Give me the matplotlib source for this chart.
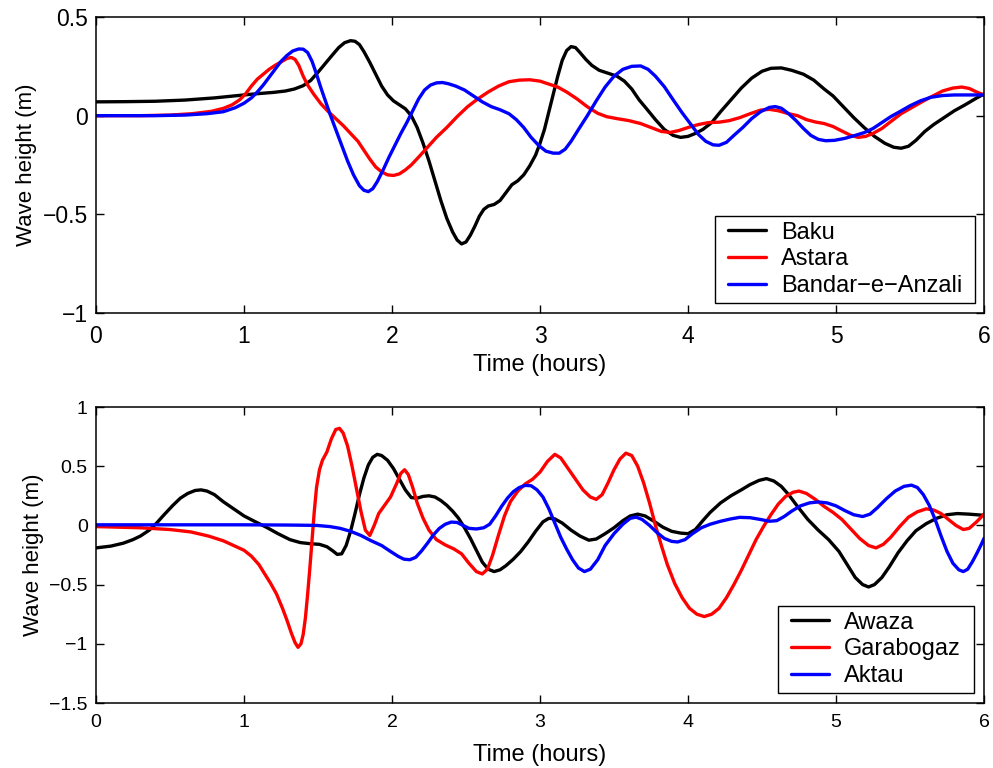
import matplotlib
matplotlib.use("Agg")
import matplotlib.pyplot as plt
from matplotlib.patches import Rectangle

plt.rcParams['font.family'] = ['Liberation Sans', 'DejaVu Sans']

# ---------------- Top panel data ----------------
baku_t = [0, 0.2, 0.4, 0.6, 0.8, 1.0, 1.1, 1.2, 1.28, 1.34, 1.40, 1.45, 1.50, 1.55, 1.60, 1.64, 1.68,
          1.72, 1.75, 1.78, 1.81, 1.85, 1.89, 1.93, 1.97, 2.01, 2.05, 2.09, 2.13, 2.17, 2.21, 2.25,
          2.29, 2.33, 2.37, 2.41, 2.44, 2.47, 2.50, 2.53, 2.56, 2.59, 2.62, 2.65, 2.69, 2.73, 2.77,
          2.81, 2.85, 2.89, 2.93, 2.97, 3.00, 3.03, 3.06, 3.09, 3.12, 3.15, 3.18, 3.21, 3.24, 3.27,
          3.31, 3.35, 3.40, 3.46, 3.52, 3.57, 3.62, 3.67, 3.72, 3.78, 3.84, 3.90, 3.95, 4.00, 4.05,
          4.10, 4.16, 4.22, 4.29, 4.36, 4.43, 4.50, 4.56, 4.63, 4.70, 4.78, 4.85, 4.92, 4.98, 5.05,
          5.12, 5.19, 5.26, 5.33, 5.39, 5.44, 5.49, 5.54, 5.60, 5.66, 5.73, 5.80, 5.87, 5.94, 6.0]
baku_v = [0.070, 0.071, 0.073, 0.079, 0.090, 0.105, 0.112, 0.118, 0.125, 0.135, 0.152, 0.178, 0.22,
          0.265, 0.31, 0.345, 0.37, 0.38, 0.377, 0.36, 0.325, 0.27, 0.21, 0.15, 0.105, 0.075, 0.055,
          0.035, 0.0, -0.06, -0.14, -0.23, -0.33, -0.43, -0.52, -0.59, -0.63, -0.65, -0.64, -0.605,
          -0.56, -0.51, -0.475, -0.458, -0.45, -0.43, -0.39, -0.35, -0.33, -0.30, -0.255, -0.20, -0.14,
          -0.07, 0.02, 0.11, 0.20, 0.28, 0.33, 0.35, 0.345, 0.32, 0.285, 0.255, 0.23, 0.215, 0.20,
          0.175, 0.135, 0.08, 0.035, -0.02, -0.07, -0.10, -0.11, -0.105, -0.09, -0.07, -0.035, 0.02,
          0.08, 0.14, 0.19, 0.225, 0.24, 0.242, 0.23, 0.21, 0.18, 0.135, 0.10, 0.045, -0.01, -0.06,
          -0.105, -0.14, -0.16, -0.165, -0.155, -0.125, -0.08, -0.045, -0.01, 0.025, 0.054, 0.085, 0.11]

astara_t = [0, 0.3, 0.5, 0.65, 0.78, 0.86, 0.92, 0.97, 1.01, 1.05, 1.09, 1.13, 1.17, 1.21, 1.25, 1.29,
            1.32, 1.345, 1.37, 1.40, 1.43, 1.47, 1.52, 1.57, 1.62, 1.67, 1.72, 1.77, 1.81, 1.85, 1.89,
            1.93, 1.97, 2.01, 2.05, 2.09, 2.13, 2.18, 2.24, 2.30, 2.37, 2.44, 2.51, 2.58, 2.65, 2.72,
            2.79, 2.86, 2.93, 3.00, 3.06, 3.12, 3.18, 3.25, 3.32, 3.39, 3.45, 3.52, 3.60, 3.68, 3.75,
            3.82, 3.88, 3.94, 4.00, 4.07, 4.14, 4.21, 4.28, 4.35, 4.42, 4.49, 4.55, 4.61, 4.68, 4.74,
            4.80, 4.86, 4.92, 4.98, 5.04, 5.10, 5.15, 5.20, 5.25, 5.31, 5.37, 5.44, 5.51, 5.58, 5.65,
            5.72, 5.79, 5.85, 5.90, 5.95, 6.0]
astara_v = [0.0, 0.0, 0.003, 0.01, 0.022, 0.037, 0.055, 0.08, 0.11, 0.15, 0.185, 0.21, 0.235, 0.255,
            0.272, 0.29, 0.295, 0.285, 0.255, 0.20, 0.155, 0.11, 0.06, 0.02, -0.015, -0.05, -0.09, -0.13,
            -0.175, -0.22, -0.26, -0.285, -0.30, -0.303, -0.295, -0.275, -0.25, -0.21, -0.16, -0.11,
            -0.06, -0.005, 0.045, 0.085, 0.12, 0.15, 0.172, 0.18, 0.182, 0.175, 0.16, 0.145, 0.12, 0.085,
            0.045, 0.012, -0.005, -0.015, -0.025, -0.04, -0.06, -0.08, -0.085, -0.075, -0.06, -0.045,
            -0.035, -0.033, -0.025, -0.01, 0.01, 0.028, 0.032, 0.025, 0.01, 0.0, -0.02, -0.032, -0.04,
            -0.055, -0.078, -0.10, -0.11, -0.105, -0.09, -0.065, -0.03, 0.01, 0.04, 0.07, 0.098, 0.125,
            0.14, 0.145, 0.138, 0.12, 0.105]

anzali_t = [0, 0.4, 0.6, 0.75, 0.86, 0.94, 1.0, 1.05, 1.09, 1.13, 1.17, 1.21, 1.25, 1.29, 1.33, 1.37,
            1.40, 1.43, 1.46, 1.49, 1.52, 1.55, 1.58, 1.62, 1.66, 1.70, 1.74, 1.78, 1.81, 1.84, 1.87,
            1.90, 1.94, 1.98, 2.02, 2.06, 2.10, 2.14, 2.18, 2.22, 2.26, 2.30, 2.34, 2.38, 2.43, 2.49,
            2.55, 2.61, 2.67, 2.73, 2.79, 2.84, 2.89, 2.94, 2.99, 3.04, 3.09, 3.13, 3.17, 3.21, 3.26,
            3.32, 3.38, 3.44, 3.50, 3.56, 3.62, 3.68, 3.73, 3.78, 3.84, 3.90, 3.96, 4.02, 4.07, 4.12,
            4.17, 4.21, 4.26, 4.31, 4.37, 4.43, 4.49, 4.55, 4.59, 4.63, 4.68, 4.73, 4.78, 4.83, 4.88,
            4.93, 4.99, 5.06, 5.13, 5.19, 5.25, 5.31, 5.37, 5.43, 5.50, 5.57, 5.64, 5.72, 5.80, 5.90, 6.0]
anzali_v = [0.0, 0.0, 0.003, 0.01, 0.02, 0.04, 0.063, 0.09, 0.12, 0.155, 0.195, 0.235, 0.275, 0.305,
            0.328, 0.338, 0.337, 0.32, 0.275, 0.21, 0.14, 0.075, 0.01, -0.07, -0.15, -0.23, -0.30,
            -0.355, -0.378, -0.385, -0.37, -0.335, -0.275, -0.21, -0.15, -0.09, -0.035, 0.025, 0.085,
            0.13, 0.155, 0.166, 0.168, 0.162, 0.15, 0.13, 0.10, 0.07, 0.046, 0.03, 0.01, -0.02, -0.06,
            -0.11, -0.15, -0.18, -0.19, -0.19, -0.17, -0.13, -0.07, 0.0, 0.075, 0.145, 0.20, 0.235,
            0.25, 0.252, 0.235, 0.20, 0.147, 0.08, 0.015, -0.045, -0.095, -0.13, -0.148, -0.15, -0.135,
            -0.10, -0.06, -0.015, 0.02, 0.042, 0.046, 0.038, 0.01, -0.025, -0.065, -0.10, -0.12, -0.127,
            -0.125, -0.115, -0.10, -0.086, -0.065, -0.035, -0.005, 0.02, 0.05, 0.075, 0.093, 0.102,
            0.105, 0.105, 0.105]

# ---------------- Bottom panel data ----------------
awaza_t = [0, 0.1, 0.185, 0.25, 0.30, 0.36, 0.41, 0.46, 0.52, 0.57, 0.62, 0.67, 0.71, 0.75, 0.80, 0.86,
           0.93, 1.0, 1.07, 1.15, 1.23, 1.31, 1.38, 1.45, 1.51, 1.56, 1.60, 1.63, 1.66, 1.69, 1.72,
           1.75, 1.78, 1.81, 1.84, 1.87, 1.90, 1.93, 1.97, 2.01, 2.05, 2.09, 2.13, 2.17, 2.21, 2.25,
           2.29, 2.33, 2.37, 2.41, 2.45, 2.49, 2.53, 2.57, 2.61, 2.65, 2.69, 2.73, 2.77, 2.82, 2.87,
           2.92, 2.97, 3.02, 3.06, 3.10, 3.15, 3.21, 3.27, 3.33, 3.38, 3.44, 3.50, 3.56, 3.61, 3.66,
           3.71, 3.77, 3.83, 3.89, 3.95, 4.0, 4.05, 4.10, 4.15, 4.22, 4.29, 4.36, 4.42, 4.48, 4.53,
           4.58, 4.63, 4.68, 4.74, 4.81, 4.88, 4.95, 5.02, 5.08, 5.13, 5.18, 5.22, 5.26, 5.31, 5.36,
           5.42, 5.48, 5.54, 5.61, 5.68, 5.75, 5.82, 5.90, 6.0]
awaza_v = [-0.19, -0.175, -0.15, -0.12, -0.09, -0.04, 0.02, 0.09, 0.17, 0.23, 0.27, 0.295, 0.30, 0.29,
           0.26, 0.20, 0.14, 0.08, 0.035, -0.015, -0.07, -0.12, -0.145, -0.155, -0.16, -0.18, -0.215,
           -0.245, -0.24, -0.17, -0.05, 0.10, 0.26, 0.40, 0.51, 0.575, 0.60, 0.59, 0.55, 0.48, 0.39,
           0.30, 0.235, 0.23, 0.245, 0.25, 0.24, 0.21, 0.17, 0.12, 0.06, -0.02, -0.11, -0.21, -0.31,
           -0.37, -0.39, -0.375, -0.34, -0.285, -0.22, -0.14, -0.05, 0.03, 0.06, 0.055, 0.02, -0.04,
           -0.09, -0.125, -0.115, -0.07, -0.02, 0.04, 0.08, 0.095, 0.08, 0.035, -0.015, -0.05, -0.065,
           -0.07, -0.035, 0.04, 0.11, 0.19, 0.25, 0.30, 0.345, 0.38, 0.395, 0.375, 0.33, 0.26, 0.16,
           0.05, -0.04, -0.12, -0.22, -0.34, -0.44, -0.50, -0.52, -0.50, -0.44, -0.35, -0.23, -0.13,
           -0.045, 0.015, 0.06, 0.09, 0.10, 0.095, 0.085]

garabogaz_t = [0, 0.3, 0.5, 0.64, 0.76, 0.86, 0.93, 1.0, 1.05, 1.10, 1.14, 1.18, 1.22, 1.26, 1.29, 1.32,
               1.345, 1.365, 1.385, 1.40, 1.415, 1.43, 1.445, 1.46, 1.475, 1.49, 1.51, 1.53, 1.56, 1.59,
               1.62, 1.645, 1.67, 1.70, 1.73, 1.76, 1.79, 1.82, 1.85, 1.88, 1.91, 1.95, 1.99, 2.03, 2.06,
               2.085, 2.11, 2.14, 2.17, 2.21, 2.25, 2.30, 2.36, 2.42, 2.47, 2.52, 2.57, 2.61, 2.645, 2.68,
               2.72, 2.76, 2.80, 2.85, 2.90, 2.95, 3.00, 3.05, 3.10, 3.14, 3.19, 3.24, 3.29, 3.34, 3.38,
               3.42, 3.46, 3.50, 3.54, 3.58, 3.62, 3.66, 3.70, 3.74, 3.78, 3.82, 3.86, 3.91, 3.96, 4.01,
               4.06, 4.11, 4.16, 4.21, 4.26, 4.31, 4.36, 4.41, 4.46, 4.51, 4.56, 4.61, 4.66, 4.71, 4.75,
               4.80, 4.86, 4.92, 4.98, 5.04, 5.10, 5.16, 5.22, 5.27, 5.32, 5.37, 5.43, 5.49, 5.55, 5.61,
               5.66, 5.71, 5.76, 5.81, 5.86, 5.90, 5.95, 6.0]
garabogaz_v = [-0.01, -0.02, -0.035, -0.055, -0.09, -0.13, -0.17, -0.21, -0.26, -0.33, -0.41, -0.49,
               -0.58, -0.70, -0.80, -0.91, -0.99, -1.03, -1.0, -0.92, -0.78, -0.58, -0.36, -0.12, 0.12,
               0.32, 0.47, 0.55, 0.62, 0.73, 0.81, 0.82, 0.78, 0.67, 0.50, 0.31, 0.12, -0.04, -0.085,
               0.0, 0.10, 0.17, 0.24, 0.35, 0.44, 0.47, 0.43, 0.32, 0.19, 0.06, -0.04, -0.12, -0.165,
               -0.20, -0.24, -0.32, -0.39, -0.41, -0.37, -0.25, -0.08, 0.08, 0.20, 0.29, 0.35, 0.39,
               0.45, 0.54, 0.60, 0.57, 0.48, 0.39, 0.30, 0.24, 0.22, 0.26, 0.36, 0.47, 0.56, 0.61, 0.59,
               0.50, 0.36, 0.19, 0.0, -0.17, -0.33, -0.49, -0.61, -0.70, -0.75, -0.77, -0.75, -0.70,
               -0.61, -0.50, -0.38, -0.25, -0.12, -0.01, 0.09, 0.18, 0.245, 0.28, 0.29, 0.27, 0.22, 0.16,
               0.11, 0.05, -0.03, -0.11, -0.17, -0.19, -0.16, -0.10, -0.01, 0.07, 0.115, 0.14, 0.13, 0.10,
               0.05, 0.0, -0.035, -0.025, 0.03, 0.095]

aktau_t = [0, 1.0, 1.3, 1.49, 1.58, 1.65, 1.72, 1.79, 1.86, 1.93, 1.99, 2.04, 2.08, 2.12, 2.16, 2.20,
           2.24, 2.28, 2.32, 2.36, 2.40, 2.44, 2.48, 2.52, 2.57, 2.62, 2.66, 2.70, 2.74, 2.78, 2.82,
           2.86, 2.90, 2.94, 2.98, 3.02, 3.06, 3.10, 3.14, 3.18, 3.22, 3.26, 3.30, 3.34, 3.39, 3.44,
           3.50, 3.56, 3.61, 3.65, 3.69, 3.74, 3.79, 3.84, 3.89, 3.93, 3.98, 4.03, 4.09, 4.15, 4.22,
           4.29, 4.35, 4.42, 4.49, 4.55, 4.60, 4.65, 4.70, 4.76, 4.82, 4.88, 4.94, 5.00, 5.06, 5.12,
           5.18, 5.23, 5.28, 5.34, 5.40, 5.46, 5.51, 5.55, 5.59, 5.63, 5.67, 5.71, 5.75, 5.79, 5.83,
           5.86, 5.89, 5.92, 5.95, 5.98, 6.0]
aktau_v = [0.005, 0.005, 0.003, 0.0, -0.01, -0.025, -0.05, -0.085, -0.13, -0.17, -0.22, -0.26, -0.285,
           -0.29, -0.27, -0.215, -0.15, -0.08, -0.025, 0.01, 0.028, 0.025, 0.0, -0.025, -0.03, -0.02,
           0.01, 0.08, 0.16, 0.23, 0.285, 0.32, 0.338, 0.335, 0.30, 0.24, 0.14, 0.02, -0.10, -0.20,
           -0.29, -0.36, -0.39, -0.37, -0.29, -0.17, -0.07, 0.01, 0.06, 0.07, 0.05, 0.0, -0.06, -0.11,
           -0.135, -0.14, -0.12, -0.07, -0.02, 0.01, 0.035, 0.055, 0.068, 0.065, 0.05, 0.035, 0.04,
           0.075, 0.12, 0.165, 0.19, 0.198, 0.19, 0.165, 0.125, 0.09, 0.075, 0.095, 0.15, 0.225, 0.29,
           0.33, 0.34, 0.32, 0.26, 0.17, 0.05, -0.09, -0.22, -0.32, -0.375, -0.39, -0.37, -0.31, -0.24,
           -0.165, -0.11]

top_labels = ["Baku", "Astara", "Bandar\u2212e\u2212Anzali"]
bottom_labels = ["Awaza", "Garabogaz", "Aktau"]
colors = ["#000000", "#ff0000", "#0000ff"]
top_yticks = [-1, -0.5, 0, 0.5]
top_yticklabels = ["\u22121", "\u22120.5", "0", "0.5"]
bottom_yticks = [-1.5, -1, -0.5, 0, 0.5, 1]
bottom_yticklabels = ["\u22121.5", "\u22121", "\u22120.5", "0", "0.5", "1"]
xticks = [0, 1, 2, 3, 4, 5, 6]

W, H = 993, 768
fig = plt.figure(figsize=(W / 100, H / 100), dpi=100)
ax1 = fig.add_axes([96/W, 1-313/H, (984-96)/W, (313-17)/H])
ax2 = fig.add_axes([96/W, 1-703/H, (984-96)/W, (703-407)/H])

lw = 2.4
for t, v, c, lab in zip([baku_t, astara_t, anzali_t], [baku_v, astara_v, anzali_v], colors, top_labels):
    ax1.plot(t, v, color=c, lw=lw, label=lab, solid_joinstyle='round', solid_capstyle='round')
for t, v, c, lab in zip([awaza_t, garabogaz_t, aktau_t], [awaza_v, garabogaz_v, aktau_v], colors, bottom_labels):
    ax2.plot(t, v, color=c, lw=lw, label=lab, solid_joinstyle='round', solid_capstyle='round')

def style(ax, yticks, ylabels, ylim, tfs, xpad, xlpad):
    ax.set_xlim(0, 6)
    ax.set_ylim(*ylim)
    ax.set_xticks(xticks)
    ax.set_xticklabels([str(x) for x in xticks])
    ax.set_yticks(yticks)
    ax.set_yticklabels(ylabels)
    ax.tick_params(direction='in', length=6, width=1, top=True, right=True, labelsize=tfs, pad=6)
    ax.tick_params(axis='x', pad=xpad)
    for s in ax.spines.values():
        s.set_linewidth(1.1)
    ax.set_xlabel("Time (hours)", fontsize=17, labelpad=xlpad)
    ax.set_ylabel("Wave height (m)", fontsize=16, labelpad=4)

style(ax1, top_yticks, top_yticklabels, (-1, 0.5), 16.5, 9, 4)
style(ax2, bottom_yticks, bottom_yticklabels, (-1.5, 1), 14, 8, 9)

# legends: text/handles placed by matplotlib, frame drawn a bit wider than the content
extra_x = 7  # px of additional horizontal padding in the frame
leg_kw = dict(loc='lower right', fontsize=17, frameon=False,
              borderpad=0.25, labelspacing=0.2, handlelength=1.6, handletextpad=0.65, borderaxespad=0)
l1 = ax1.legend(bbox_to_anchor=((975 - extra_x - 96) / 888, (313 - 303) / 296), **leg_kw)
l2 = ax2.legend(bbox_to_anchor=((974 - extra_x - 96) / 888, (703 - 693) / 296), **leg_kw)

fig.canvas.draw()
for ax, l in ((ax1, l1), (ax2, l2)):
    inv = ax.transAxes.inverted()
    bb = l.get_window_extent()
    (x0, y0) = inv.transform((bb.x0 - extra_x, bb.y0))
    (x1, y1) = inv.transform((bb.x1 + extra_x, bb.y1))
    rect = Rectangle((x0, y0), x1 - x0, y1 - y0, transform=ax.transAxes,
                     facecolor='white', edgecolor='black', linewidth=1.0, zorder=4, clip_on=False)
    ax.add_artist(rect)
    l.set_zorder(5)

fig.savefig("out.png", dpi=100)
